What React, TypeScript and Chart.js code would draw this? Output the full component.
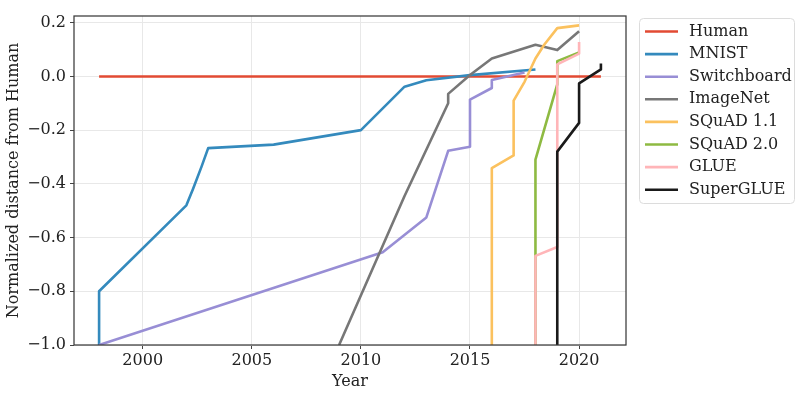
import React, { useEffect, useRef } from "react";
import { Chart, registerables } from "chart.js";

Chart.register(...registerables);

// ---- data ----
const X_TICKS = [2000, 2005, 2010, 2015, 2020];
const Y_TICKS = [-1.0, -0.8, -0.6, -0.4, -0.2, 0.0, 0.2];

const SERIES_NAMES = ["Human", "MNIST", "Switchboard", "ImageNet", "SQuAD 1.1", "SQuAD 2.0", "GLUE", "SuperGLUE"];
const SERIES_COLORS = ["#E24A33", "#348ABD", "#988ED5", "#777777", "#FBC15E", "#8EBA42", "#FFB5B8", "#1a1a1a"];

const HUMAN_X = [1998, 2021];
const HUMAN_Y = [0, 0];

const MNIST_X = [1998, 1998, 2002, 2002.3, 2002.7, 2003, 2006, 2010, 2012, 2013, 2015, 2018];
const MNIST_Y = [-1.0, -0.8, -0.48, -0.42, -0.335, -0.267, -0.254, -0.2, -0.038, -0.014, 0.005, 0.026];

const SWITCHBOARD_X = [1998, 2011, 2013, 2014, 2015, 2015, 2016, 2016, 2017.5];
const SWITCHBOARD_Y = [-1.0, -0.655, -0.525, -0.277, -0.262, -0.086, -0.043, -0.013, 0.015];

const IMAGENET_X = [2009, 2012, 2014, 2014, 2015, 2016, 2018, 2019, 2020];
const IMAGENET_Y = [-1.0, -0.445, -0.1, -0.065, 0.005, 0.067, 0.118, 0.098, 0.168];

const SQUAD11_X = [2016, 2016, 2017, 2017, 2017.5, 2018, 2018.4, 2019, 2020];
const SQUAD11_Y = [-1.0, -0.341, -0.294, -0.09, -0.02, 0.067, 0.118, 0.18, 0.19];

const SQUAD20_X = [2018, 2018, 2019, 2019, 2020];
const SQUAD20_Y = [-1.0, -0.31, -0.03, 0.057, 0.089];

const GLUE_X = [2018, 2018, 2019, 2019, 2020, 2020];
const GLUE_Y = [-1.0, -0.668, -0.635, 0.045, 0.085, 0.128];

const SUPERGLUE_X = [2019, 2019, 2020, 2020, 2021, 2021];
const SUPERGLUE_Y = [-1.0, -0.28, -0.173, -0.026, 0.026, 0.048];

const SERIES_X = [HUMAN_X, MNIST_X, SWITCHBOARD_X, IMAGENET_X, SQUAD11_X, SQUAD20_X, GLUE_X, SUPERGLUE_X];
const SERIES_Y = [HUMAN_Y, MNIST_Y, SWITCHBOARD_Y, IMAGENET_Y, SQUAD11_Y, SQUAD20_Y, GLUE_Y, SUPERGLUE_Y];

const FONT = '"DejaVu Serif", serif';

const framePlugin = {
  id: "frame",
  afterDatasetsDraw(chart: any) {
    const { ctx, chartArea } = chart;
    ctx.save();
    ctx.strokeStyle = "#3a3a3a";
    ctx.lineWidth = 1.25;
    ctx.strokeRect(chartArea.left, chartArea.top, chartArea.right - chartArea.left, chartArea.bottom - chartArea.top);
    ctx.restore();
  },
};

const legendPlugin = {
  id: "customLegend",
  afterDraw(chart: any) {
    const { ctx } = chart;
    const bx = 639.5, by = 18.5, bw = 155, bh = 185, r = 4;
    ctx.save();
    ctx.beginPath();
    ctx.moveTo(bx + r, by);
    ctx.lineTo(bx + bw - r, by);
    ctx.quadraticCurveTo(bx + bw, by, bx + bw, by + r);
    ctx.lineTo(bx + bw, by + bh - r);
    ctx.quadraticCurveTo(bx + bw, by + bh, bx + bw - r, by + bh);
    ctx.lineTo(bx + r, by + bh);
    ctx.quadraticCurveTo(bx, by + bh, bx, by + bh - r);
    ctx.lineTo(bx, by + r);
    ctx.quadraticCurveTo(bx, by, bx + r, by);
    ctx.closePath();
    ctx.fillStyle = "#ffffff";
    ctx.fill();
    ctx.strokeStyle = "#dcdcdc";
    ctx.lineWidth = 1;
    ctx.stroke();
    ctx.font = `16px ${FONT}`;
    ctx.textBaseline = "middle";
    ctx.textAlign = "left";
    chart.data.datasets.forEach((ds: any, i: number) => {
      const y = 31.5 + i * 22.6;
      ctx.strokeStyle = ds.borderColor;
      ctx.lineWidth = 2.6;
      ctx.beginPath();
      ctx.moveTo(645, y);
      ctx.lineTo(678, y);
      ctx.stroke();
      ctx.fillStyle = "#222";
      ctx.fillText(ds.label, 689, y);
    });
    ctx.restore();
  },
};

export default function App() {
  const ref = useRef<HTMLCanvasElement>(null);
  useEffect(() => {
    document.body.style.margin = "0";
    const datasets = SERIES_NAMES.map((name, i) => ({
      label: name,
      data: SERIES_X[i].map((x, j) => ({ x, y: SERIES_Y[i][j] })),
      borderColor: SERIES_COLORS[i],
      backgroundColor: SERIES_COLORS[i],
      borderWidth: 2.6,
      pointRadius: 0,
      tension: 0,
      fill: false,
      clip: 0,
      borderJoinStyle: "round" as const,
      order: SERIES_NAMES.length - i,
    }));
    const chart = new Chart(ref.current!, {
      type: "line",
      data: { datasets },
      options: {
        animation: false,
        responsive: false,
        devicePixelRatio: 1,
        layout: { padding: { left: 0, top: 16, right: 174, bottom: 0 } },
        plugins: { legend: { display: false }, tooltip: { enabled: false } },
        font: { family: FONT, size: 16 },
        scales: {
          x: {
            type: "linear",
            min: 1996.85,
            max: 2022.15,
            afterBuildTicks: (s: any) => {
              s.ticks = X_TICKS.map((v) => ({ value: v }));
            },
            afterFit: (s: any) => {
              s.height = 51;
            },
            ticks: {
              font: { family: FONT, size: 16 },
              color: "#222",
              padding: 2,
              maxRotation: 0,
              autoSkip: false,
              callback: (v: any) => String(v),
            },
            grid: { color: "#e8e8e8", tickColor: "#444", tickLength: 4, lineWidth: 1 },
            border: { display: false },
            title: {
              display: true,
              text: "Year",
              color: "#222",
              font: { family: FONT, size: 16 },
              padding: { top: 0, bottom: 5 },
            },
          },
          y: {
            type: "linear",
            min: -1.0,
            max: 0.225,
            afterBuildTicks: (s: any) => {
              s.ticks = Y_TICKS.map((v) => ({ value: v }));
            },
            afterFit: (s: any) => {
              s.width = 74;
            },
            ticks: {
              font: { family: FONT, size: 16 },
              color: "#222",
              padding: 4,
              autoSkip: false,
              callback: (v: any) => Number(v).toFixed(1).replace("-", "\u2212"),
            },
            grid: { color: "#e8e8e8", tickColor: "#444", tickLength: 4, lineWidth: 1 },
            border: { display: false },
            title: {
              display: true,
              text: "Normalized distance from Human",
              color: "#222",
              font: { family: FONT, size: 16 },
              padding: { top: 4, bottom: 4 },
            },
          },
        },
      },
      plugins: [framePlugin, legendPlugin],
    });
    return () => chart.destroy();
  }, []);
  return <canvas ref={ref} width={800} height={396} style={{ display: "block", width: 800, height: 396 }} />;
}
